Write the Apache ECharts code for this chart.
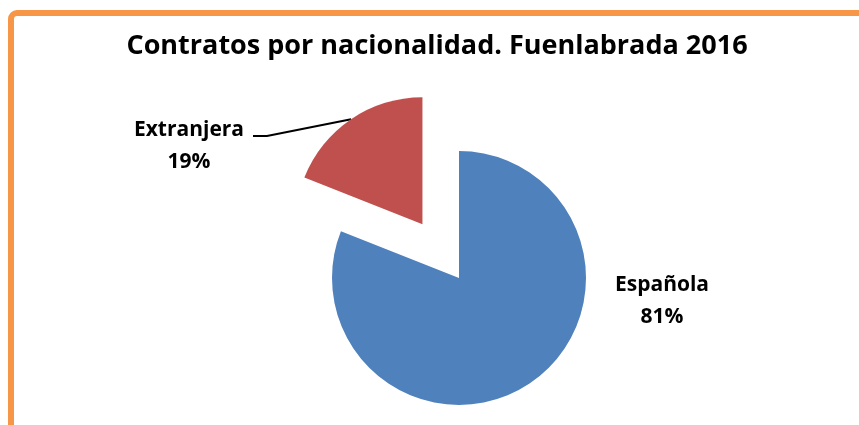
<!DOCTYPE html>
<html>
<head>
<meta charset="utf-8">
<script src="https://cdn.jsdelivr.net/npm/echarts@6/dist/echarts.min.js"></script>
<style>
  html, body { margin: 0; padding: 0; background: #fff; }
  #chart { width: 859px; height: 425px; }
</style>
</head>
<body>
<div id="chart"></div>
<script>
const categories = ['Española', 'Extranjera'];
const values = [81, 19];
const colors = ['#4F81BD', '#C0504D'];
const exploded = 1; // index of the pulled-out slice

const cx = 459, cy = 278, R = 127, OFF = 65;
const FONT = '"Open Sans"';

const myEcharts = echarts.init(document.getElementById('chart'));

// mid angle (radians, math convention) of a slice, going clockwise from 12 o'clock
function midAngle(idx) {
  const total = values.reduce((a, b) => a + b, 0);
  let before = 0;
  for (let i = 0; i < idx; i++) before += values[i];
  const frac = (before + values[idx] / 2) / total;
  return Math.PI / 2 - frac * Math.PI * 2;
}

const a = midAngle(exploded);
const ex = cx + OFF * Math.cos(a), ey = cy - OFF * Math.sin(a);

const labelStyle = {
  show: true,
  position: 'outside',
  formatter: '{b}\n{d}%',
  fontFamily: FONT,
  fontWeight: 'bold',
  fontSize: 21,
  lineHeight: 32,
  color: '#000',
  align: 'center'
};

// one pie per slice group: same values so angles match, other slices transparent
function pieSeries(center, visibleIdx, layout) {
  return {
    type: 'pie',
    center: center,
    radius: R,
    startAngle: 90,
    clockwise: true,
    silent: true,
    emphasis: { disabled: true },
    data: categories.map((name, i) => ({
      name,
      value: values[i],
      itemStyle: { color: i === visibleIdx ? colors[i] : 'rgba(0,0,0,0)' },
      label: { show: i === visibleIdx },
      labelLine: { show: i === visibleIdx && i === exploded }
    })),
    label: labelStyle,
    labelLine: { lineStyle: { color: '#000', width: 2 } },
    labelLayout: layout
  };
}

myEcharts.setOption({
  animation: false,
  title: {
    text: 'Contratos por nacionalidad. Fuenlabrada 2016',
    left: 432,
    textAlign: 'center',
    top: 28,
    textStyle: { fontFamily: FONT, fontWeight: 'bold', fontSize: 27, color: '#000' }
  },
  graphic: [{
    type: 'rect',
    shape: { x: 11, y: 13, width: 1000, height: 600, r: 6 },
    style: { fill: 'none', stroke: '#F79646', lineWidth: 6 },
    silent: true
  }],
  series: [
    pieSeries([cx, cy], 0, () => ({ x: 662, y: 301, align: 'center', verticalAlign: 'middle' })),
    pieSeries([ex, ey], exploded, () => {
      const p0 = [ex + R * Math.cos(a), ey - R * Math.sin(a)];
      return {
        x: 189, y: 146, align: 'center', verticalAlign: 'middle',
        labelLinePoints: [p0, [267, 136], [253, 136]]
      };
    })
  ]
});
</script>
</body>
</html>
